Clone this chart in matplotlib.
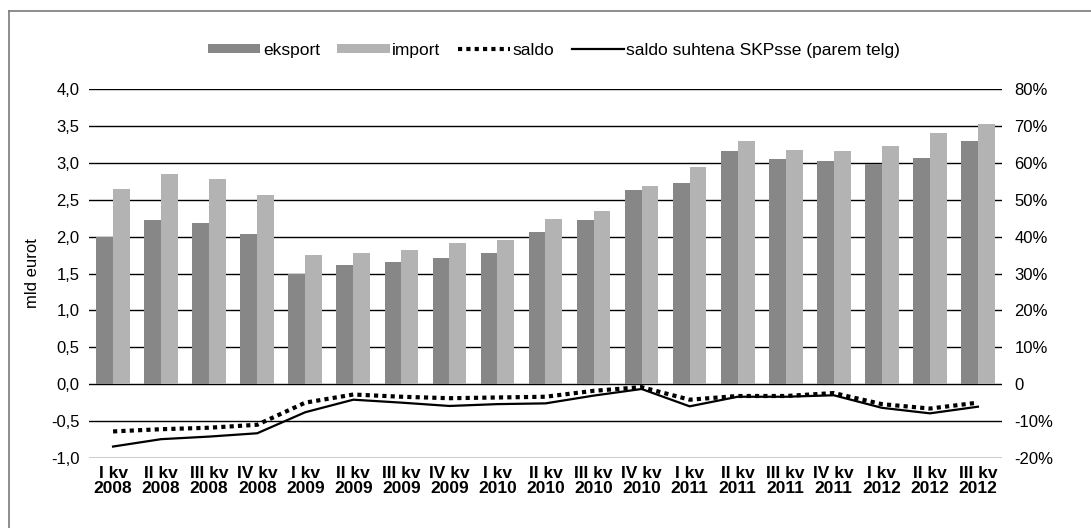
import numpy as np
import matplotlib
matplotlib.use("Agg")
from matplotlib import pyplot as plt
from matplotlib.lines import Line2D

plt.rcParams['font.family'] = ['Liberation Sans', 'DejaVu Sans']

quarters = ["I kv\n2008", "II kv\n2008", "III kv\n2008", "IV kv\n2008",
            "I kv\n2009", "II kv\n2009", "III kv\n2009", "IV kv\n2009",
            "I kv\n2010", "II kv\n2010", "III kv\n2010", "IV kv\n2010",
            "I kv\n2011", "II kv\n2011", "III kv\n2011", "IV kv\n2011",
            "I kv\n2012", "II kv\n2012", "III kv\n2012"]

# mld eurot
eksport = [2.00, 2.22, 2.19, 2.04, 1.50, 1.62, 1.65, 1.71, 1.78, 2.06,
           2.23, 2.63, 2.72, 3.16, 3.05, 3.03, 2.98, 3.07, 3.29]
imp = [2.65, 2.85, 2.78, 2.57, 1.75, 1.78, 1.82, 1.91, 1.95, 2.24,
       2.35, 2.68, 2.94, 3.29, 3.18, 3.16, 3.23, 3.40, 3.53]
saldo = [-0.64, -0.61, -0.59, -0.55, -0.25, -0.14, -0.17, -0.19, -0.18, -0.17,
         -0.09, -0.04, -0.21, -0.16, -0.16, -0.12, -0.27, -0.33, -0.25]
# % of GDP (right axis)
saldo_gdp = [-16.9, -14.9, -14.2, -13.3, -7.6, -4.2, -5.0, -5.9, -5.4, -5.2,
             -3.1, -1.3, -6.0, -3.4, -3.4, -3.0, -6.4, -7.9, -6.1]

left_ticks = [-1.0, -0.5, 0.0, 0.5, 1.0, 1.5, 2.0, 2.5, 3.0, 3.5, 4.0]
left_labels = ["-1,0", "-0,5", "0,0", "0,5", "1,0", "1,5", "2,0", "2,5", "3,0", "3,5", "4,0"]
right_ticks = [-20, -10, 0, 10, 20, 30, 40, 50, 60, 70, 80]
right_labels = ["-20%", "-10%", "0", "10%", "20%", "30%", "40%", "50%", "60%", "70%", "80%"]

x = np.arange(len(quarters))
w = 0.35

fig = plt.figure(figsize=(10.91, 5.28), dpi=100)
ax = fig.add_axes([0.0816, 0.1326, 0.8368, 0.6988])

ax.set_axisbelow(True)
ax.yaxis.grid(True, color='black', linewidth=1.0)
b1 = ax.bar(x - w/2, eksport, w, color='#878787', label='eksport', zorder=2)
b2 = ax.bar(x + w/2, imp, w, color='#b3b3b3', label='import', zorder=2)
l1, = ax.plot(x, saldo, color='black', linewidth=3, linestyle=(0, (1, 1)),
              dash_capstyle='butt', label='saldo', zorder=3)

ax.set_xlim(-0.5, len(quarters) - 0.5)
ax.set_ylim(-1.0, 4.0)
ax.set_yticks(left_ticks)
ax.set_yticklabels(left_labels)
ax.set_xticks(x)
ax.set_xticklabels(quarters, fontweight='bold', fontsize=12.5,
                   family=['Liberation Sans Narrow', 'Liberation Sans'], linespacing=0.95)
ax.tick_params(axis='y', length=0, pad=7, labelsize=12)
ax.tick_params(axis='x', length=0, pad=6)
ax.set_ylabel('mld eurot', fontsize=12, labelpad=8)
for s in ax.spines.values():
    s.set_visible(False)

ax2 = ax.twinx()
l2, = ax2.plot(x, saldo_gdp, color='black', linewidth=1.6,
               label='saldo suhtena SKPsse (parem telg)', zorder=3)
ax2.set_ylim(-20, 80)
ax2.set_yticks(right_ticks)
ax2.set_yticklabels(right_labels)
ax2.tick_params(axis='y', length=0, pad=9, labelsize=12)
for s in ax2.spines.values():
    s.set_visible(False)

fig.legend(handles=[b1, b2, l1, l2], loc='center', bbox_to_anchor=(0.508, 0.905),
           ncol=4, frameon=False, fontsize=12.5, handlelength=3.0, handleheight=0.45,
           handletextpad=0.15, columnspacing=1.0)

# outer frame
fig.add_artist(Line2D([0.0078, 0.0078], [-0.1, 0.979], color='#7a7a7a', linewidth=1.2))
fig.add_artist(Line2D([0.0078, 1.1], [0.979, 0.979], color='#7a7a7a', linewidth=1.2))

fig.savefig('out.png', dpi=100)
